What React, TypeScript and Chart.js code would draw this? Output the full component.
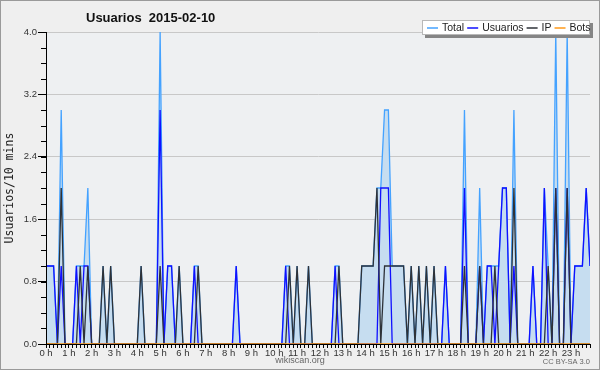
import React, { useEffect, useRef } from 'react';
import { Chart, registerables } from 'chart.js';

Chart.register(...registerables);

// 10-minute slots, 6 per hour, 0 h .. 23 h 50
const hourLabels = ['0 h','1 h','2 h','3 h','4 h','5 h','6 h','7 h','8 h','9 h','10 h','11 h',
  '12 h','13 h','14 h','15 h','16 h','17 h','18 h','19 h','20 h','21 h','22 h','23 h'];
const yTickValues = [0, 0.8, 1.6, 2.4, 3.2, 4.0];

const total = [
  1,1,1,0,3,0,  0,0,1,1,1,2,  0,0,0,1,0,1,  0,0,0,0,0,0,
  0,1,0,0,0,0,  4,0,1,1,0,1,  0,0,0,1,1,0,  0,0,0,0,0,0,
  0,0,1,0,0,0,  0,0,0,0,0,0,  0,0,0,1,1,0,  1,0,0,1,0,0,
  0,0,0,0,1,1,  0,0,0,0,0,1,  1,1,1,2,2,3,  3,1,1,1,1,0,
  1,0,1,0,1,0,  1,0,0,1,0,0,  0,0,3,0,0,0,  2,0,1,1,1,1,
  2,2,0,3,0,0,  0,0,1,0,0,2,  1,0,4,0,0,4,  0,1,1,1,2,1,
];
const usuarios = [
  1,1,1,0,1,0,  0,0,1,0,1,1,  0,0,0,0,0,0,  0,0,0,0,0,0,
  0,0,0,0,0,0,  3,0,1,1,0,0,  0,0,0,1,0,0,  0,0,0,0,0,0,
  0,0,1,0,0,0,  0,0,0,0,0,0,  0,0,0,1,0,0,  0,0,0,0,0,0,
  0,0,0,0,1,0,  0,0,0,0,0,0,  0,0,0,0,2,2,  2,0,0,0,0,0,
  0,0,0,0,0,0,  0,0,0,1,0,0,  0,0,2,0,0,0,  1,0,1,1,0,1,
  2,2,0,1,0,0,  0,0,1,0,0,2,  0,0,2,0,0,2,  0,1,1,1,2,1,
];
const ip = [
  0,0,0,0,2,0,  0,0,0,1,0,1,  0,0,0,1,0,1,  0,0,0,0,0,0,
  0,1,0,0,0,0,  1,0,0,0,0,1,  0,0,0,0,1,0,  0,0,0,0,0,0,
  0,0,0,0,0,0,  0,0,0,0,0,0,  0,0,0,0,1,0,  1,0,0,1,0,0,
  0,0,0,0,0,1,  0,0,0,0,0,1,  1,1,1,2,0,1,  1,1,1,1,1,0,
  1,0,1,0,1,0,  1,0,0,0,0,0,  0,0,1,0,0,0,  1,0,0,0,1,0,
  0,0,0,2,0,0,  0,0,0,0,0,0,  1,0,2,0,0,2,  0,0,0,0,0,0,
];
const bots = [
  0,0,0,0,0,0,  0,0,0,0,0,0,  0,0,0,0,0,0,  0,0,0,0,0,0,
  0,0,0,0,0,0,  0,0,0,0,0,0,  0,0,0,0,0,0,  0,0,0,0,0,0,
  0,0,0,0,0,0,  0,0,0,0,0,0,  0,0,0,0,0,0,  0,0,0,0,0,0,
  0,0,0,0,0,0,  0,0,0,0,0,0,  0,0,0,0,0,0,  0,0,0,0,0,0,
  0,0,0,0,0,0,  0,0,0,0,0,0,  0,0,0,0,0,0,  0,0,0,0,0,0,
  0,0,0,0,0,0,  0,0,0,0,0,0,  0,0,0,0,0,0,  0,0,0,0,0,0,
];

const seriesNames = ['Total', 'Usuarios', 'IP', 'Bots'];
const seriesColors = ['#44a2ff', '#1010ff', '#2e3238', '#ff9a1a'];
const titleText = 'Usuarios  2015-02-10';
const yTitle = 'Usuarios/10 mins';
const footerText = 'wikiscan.org';
const licenseText = 'CC BY-SA 3.0';

const LAST_SLOT = 143;
const SLOTS_PER_HOUR = 6;

const toPoints = (arr: number[]) => arr.map((v, i) => ({ x: i, y: v }));

const decorPlugin = {
  id: 'decor',
  beforeDraw(chart: any) {
    const { ctx, chartArea, width, height } = chart;
    ctx.save();
    ctx.fillStyle = '#efefef';
    ctx.fillRect(0, 0, width, height);
    ctx.fillStyle = '#eef0f2';
    ctx.fillRect(chartArea.left, chartArea.top, chartArea.right - chartArea.left, chartArea.bottom - chartArea.top);
    ctx.restore();
  },
  afterDraw(chart: any) {
    const { ctx, chartArea, width, height } = chart;
    const ys = chart.scales.y;
    ctx.save();
    // minor y ticks every 0.2
    ctx.strokeStyle = '#000';
    ctx.lineWidth = 1;
    ctx.beginPath();
    for (let k = 0; k <= 20; k++) {
      const py = Math.round(ys.getPixelForValue(k * 0.2)) + 0.5;
      ctx.moveTo(chartArea.left - 5, py);
      ctx.lineTo(chartArea.left, py);
    }
    ctx.stroke();

    // title
    ctx.fillStyle = '#111';
    ctx.font = 'bold 13px "Liberation Sans", Arial, sans-serif';
    ctx.textBaseline = 'middle';
    ctx.textAlign = 'left';
    ctx.fillText(titleText, 86, 18);

    // legend box
    const bx = 422, by = 20, bw = 168, bh = 15;
    ctx.fillStyle = '#858585';
    ctx.fillRect(bx + 3, by + 3, bw, bh);
    ctx.fillStyle = '#ffffff';
    ctx.fillRect(bx, by, bw, bh);
    ctx.strokeStyle = '#b8b8b8';
    ctx.strokeRect(bx + 0.5, by + 0.5, bw - 1, bh - 1);
    ctx.font = '10.5px "Liberation Sans", Arial, sans-serif';
    let x = 427;
    const cy = by + bh / 2 + 0.5;
    seriesNames.forEach((name, i) => {
      ctx.strokeStyle = seriesColors[i];
      ctx.lineWidth = 1.5;
      ctx.beginPath();
      ctx.moveTo(x, cy);
      ctx.lineTo(x + 11, cy);
      ctx.stroke();
      ctx.fillStyle = '#222';
      ctx.fillText(name, x + 15, cy);
      x += 15 + ctx.measureText(name).width + 3;
    });

    // footer
    ctx.fillStyle = '#666';
    ctx.font = '9px "Liberation Sans", Arial, sans-serif';
    ctx.textAlign = 'center';
    ctx.fillText(footerText, 300, 361);
    ctx.font = '7.5px "Liberation Sans", Arial, sans-serif';
    ctx.textAlign = 'right';
    ctx.fillText(licenseText, 590, 362);

    // outer border
    ctx.strokeStyle = '#9a9a9a';
    ctx.lineWidth = 1;
    ctx.strokeRect(0.5, 0.5, width - 1, height - 1);
    ctx.restore();
  },
};

export default function App() {
  const canvasRef = useRef<HTMLCanvasElement | null>(null);

  useEffect(() => {
    document.body.style.margin = '0';
    const canvas = canvasRef.current;
    if (!canvas) return;
    const tickFont = { family: '"Liberation Sans", Arial, sans-serif', size: 9.5 };
    const chart = new Chart(canvas, {
      type: 'line',
      data: {
        datasets: [
          { label: 'Bots', data: toPoints(bots), borderColor: seriesColors[3], borderWidth: 1.3, fill: false },
          { label: 'IP', data: toPoints(ip), borderColor: seriesColors[2], borderWidth: 1.3, fill: false },
          { label: 'Usuarios', data: toPoints(usuarios), borderColor: seriesColors[1], borderWidth: 1.3, fill: false },
          { label: 'Total', data: toPoints(total), borderColor: seriesColors[0], borderWidth: 1.3, fill: 'origin', backgroundColor: 'rgb(198,221,240)' },
        ],
      },
      options: {
        animation: false,
        responsive: false,
        devicePixelRatio: 1,
        layout: { padding: { top: 32, right: 10, left: 0, bottom: 0 } },
        elements: { point: { radius: 0 }, line: { tension: 0 } },
        plugins: { legend: { display: false }, title: { display: false }, tooltip: { enabled: false } },
        scales: {
          x: {
            type: 'linear',
            min: 0,
            max: LAST_SLOT,
            afterFit: (s: any) => { s.height = 26; },
            afterBuildTicks: (s: any) => {
              s.ticks = Array.from({ length: LAST_SLOT + 1 }, (_, i) => ({ value: i }));
            },
            ticks: {
              autoSkip: false,
              maxRotation: 0,
              minRotation: 0,
              padding: 0,
              color: '#333',
              font: tickFont,
              callback: (v: any) => {
                const n = Number(v);
                return n % SLOTS_PER_HOUR === 0 ? hourLabels[n / SLOTS_PER_HOUR] : '';
              },
            },
            grid: { drawOnChartArea: false, tickLength: 4, tickColor: '#000', lineWidth: 1 },
            border: { color: '#000', z: 1 },
          },
          y: {
            min: 0,
            max: 4,
            afterFit: (s: any) => { s.width = 46; },
            afterBuildTicks: (s: any) => { s.ticks = yTickValues.map((v) => ({ value: v })); },
            ticks: {
              padding: 1,
              color: '#333',
              font: tickFont,
              callback: (v: any) => Number(v).toFixed(1),
            },
            grid: { color: '#c8c8c8', tickColor: '#000', tickLength: 8 },
            border: { color: '#000', z: 1 },
            title: {
              display: true,
              text: yTitle,
              color: '#222',
              font: { family: '"DejaVu Sans Mono", monospace', size: 11.5 },
              padding: { top: 3, bottom: 0 },
            },
          },
        },
      },
      plugins: [decorPlugin],
    } as any);
    return () => chart.destroy();
  }, []);

  return (
    <div style={{ width: 600, height: 370 }}>
      <canvas ref={canvasRef} width={600} height={370} style={{ display: 'block' }} />
    </div>
  );
}
